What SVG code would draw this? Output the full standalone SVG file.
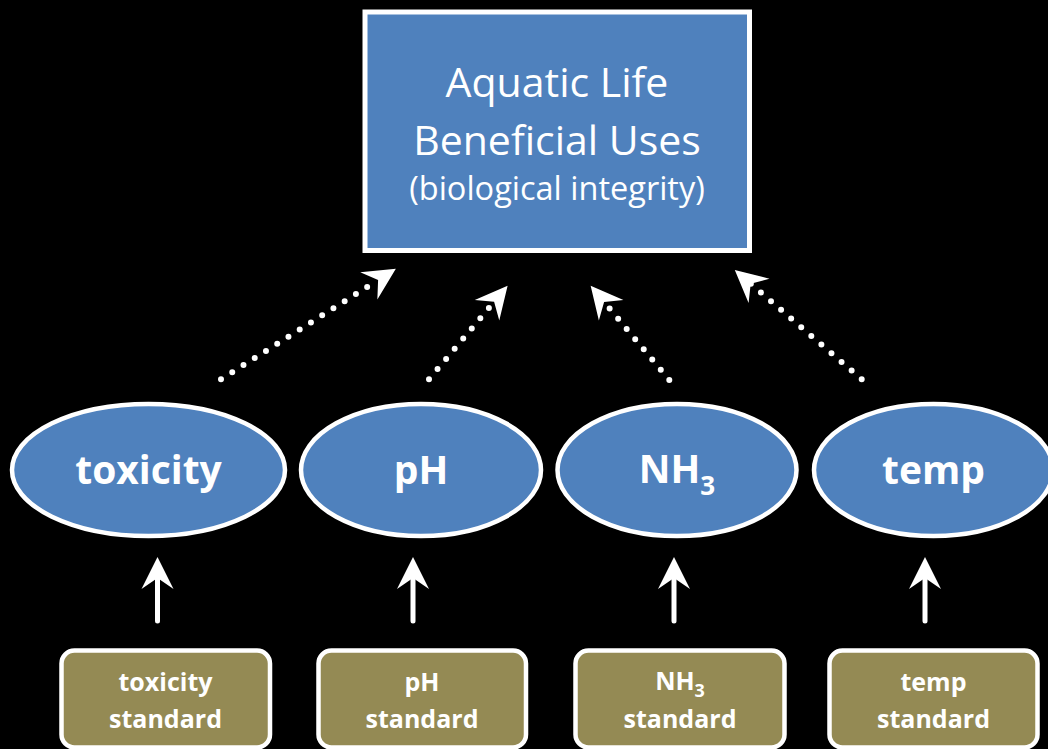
<svg xmlns="http://www.w3.org/2000/svg" width="1048" height="749" viewBox="0 0 1048 749">
  <style>
    .main { fill: #4F81BD; stroke: #FFFFFF; stroke-width: 5; }
    .oval { fill: #4F81BD; stroke: #FFFFFF; stroke-width: 4.5; }
    .std { fill: #948A54; stroke: #FFFFFF; stroke-width: 4.5; }
    .t { font-family: "Open Sans", "Liberation Sans", sans-serif; fill: #FFFFFF; text-anchor: middle; }
    .title { font-size: 41px; }
    .sub { font-size: 32.5px; }
    .ov { font-size: 39px; font-weight: bold; }
    .sm { font-size: 25px; font-weight: bold; }
    .dot { fill: none; stroke: #FFFFFF; stroke-width: 6; stroke-linecap: round; stroke-dasharray: 0 13.3; marker-end: url(#head); }
    .solid { fill: none; stroke: #FFFFFF; stroke-width: 5; stroke-linecap: round; marker-end: url(#head); }
  </style>
  <defs>
    <marker id="head" markerUnits="userSpaceOnUse" viewBox="-33 -17 34 34" markerWidth="34" markerHeight="34" refX="-21" refY="0" orient="auto" overflow="visible">
      <path d="M0,0 L-32,-16 L-21,0 L-32,16 Z" fill="#FFFFFF" stroke="none"/>
    </marker>
  </defs>
  <rect width="1048" height="749" fill="#000000"/>

  <g id="aquatic-life">
    <rect class="main" x="365" y="12" width="384.5" height="238.5"/>
    <text class="t title" x="557" y="97">Aquatic Life</text>
    <text class="t title" x="557" y="155">Beneficial Uses</text>
    <text class="t sub" x="557" y="200">(biological integrity)</text>
  </g>

  <g id="toxicity">
    <ellipse class="oval" cx="148.5" cy="470" rx="136.5" ry="66"/>
    <text class="t ov" x="148.5" y="484">toxicity</text>
  </g>
  <g id="ph">
    <ellipse class="oval" cx="421" cy="470" rx="120" ry="66"/>
    <text class="t ov" x="421" y="484">pH</text>
  </g>
  <g id="nh3">
    <ellipse class="oval" cx="677" cy="470" rx="119.5" ry="66"/>
    <text class="t ov" x="677" y="483">NH<tspan font-size="26" dy="12">3</tspan></text>
  </g>
  <g id="temp">
    <ellipse class="oval" cx="933.5" cy="470" rx="119.5" ry="66"/>
    <text class="t ov" x="933.5" y="484">temp</text>
  </g>

  <g id="toxicity-standard">
    <rect class="std" x="61.5" y="650.5" width="208.5" height="97" rx="13"/>
    <text class="t sm" x="165.5" y="691">toxicity</text>
    <text class="t sm" x="165.5" y="728">standard</text>
  </g>
  <g id="ph-standard">
    <rect class="std" x="318.5" y="650.5" width="207.5" height="97" rx="13"/>
    <text class="t sm" x="422" y="691">pH</text>
    <text class="t sm" x="422" y="728">standard</text>
  </g>
  <g id="nh3-standard">
    <rect class="std" x="575.5" y="650.5" width="209" height="97" rx="13"/>
    <text class="t sm" x="680" y="690">NH<tspan font-size="18" dy="7">3</tspan></text>
    <text class="t sm" x="680" y="728">standard</text>
  </g>
  <g id="temp-standard">
    <rect class="std" x="829.5" y="650.5" width="208" height="97" rx="13"/>
    <text class="t sm" x="933.5" y="691">temp</text>
    <text class="t sm" x="933.5" y="728">standard</text>
  </g>

  <g id="connectors">
    <path class="dot" d="M221,379.3 L378.1,280"/>
    <path class="dot" d="M429,379.3 L494.1,301.8"/>
    <path class="dot" d="M669.3,380 L604.1,301.9"/>
    <path class="dot" d="M861.7,379.3 L750.7,283.7"/>
    <path class="solid" d="M157.5,621 L157.5,578"/>
    <path class="solid" d="M413,621 L413,578"/>
    <path class="solid" d="M674,621 L674,578"/>
    <path class="solid" d="M925,621 L925,578"/>
  </g>
</svg>
